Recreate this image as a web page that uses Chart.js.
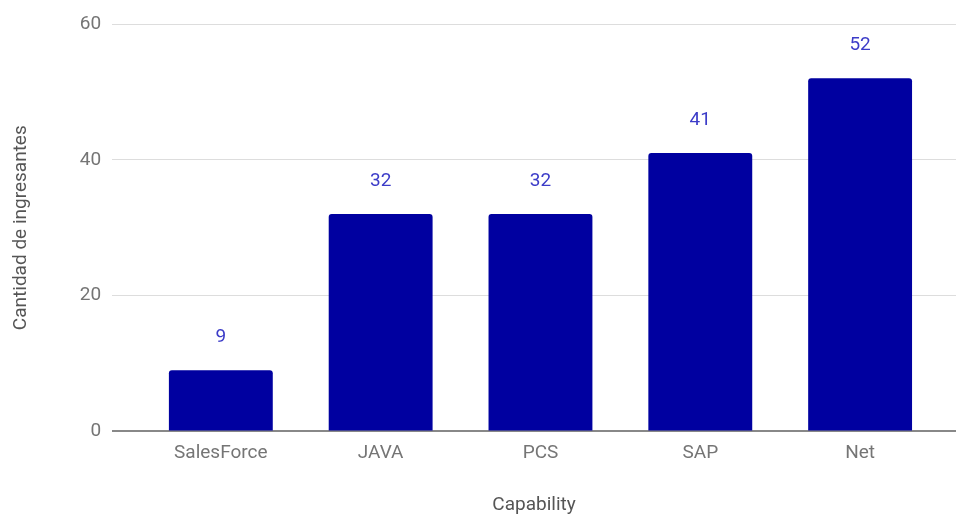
<!DOCTYPE html>
<html>
<head>
<meta charset="utf-8">
<script src="https://cdn.jsdelivr.net/npm/chart.js@4/dist/chart.umd.min.js"></script>
<style>
  html, body { margin: 0; padding: 0; background: #fff; }
  #wrap { width: 956px; height: 515px; }
</style>
</head>
<body>
<div id="wrap"><canvas id="myChart"></canvas></div>
<script>
const categories = ['SalesForce', 'JAVA', 'PCS', 'SAP', 'Net'];
const ingresantes = [9, 32, 32, 41, 52];
const yTicks = [0, 20, 40, 60];

// labels above each bar, in blue
const valueLabels = {
    id: 'valueLabels',
    afterDatasetsDraw(chart) {
        const ctx = chart.ctx;
        const meta = chart.getDatasetMeta(0);
        ctx.save();
        ctx.font = '19px Roboto';
        ctx.fillStyle = '#3c3cc8';
        ctx.textAlign = 'center';
        ctx.textBaseline = 'middle';
        meta.data.forEach(function(bar, i) {
            ctx.fillText(String(ingresantes[i]), bar.x, bar.y - 33);
        });
        ctx.restore();
    }
};

const ctx = document.getElementById('myChart');
new Chart(ctx, {
    type: 'bar',
    data: {
        datasets: [{
            data: ingresantes.map(function(v, i) { return { x: i, y: v }; }),
            backgroundColor: '#0000a0',
            borderRadius: 3,
            borderSkipped: 'bottom',
            barPercentage: 0.65,
            categoryPercentage: 1
        }]
    },
    options: {
        responsive: true,
        maintainAspectRatio: false,
        animation: false,
        layout: { padding: { top: 24, right: 0, left: 10, bottom: 0 } },
        plugins: {
            legend: { display: false },
            tooltip: { enabled: false }
        },
        scales: {
            x: {
                type: 'linear',
                offset: false,
                min: -0.68,
                max: 4.6,
                afterBuildTicks: function(axis) {
                    axis.ticks = categories.map(function(c, i) { return { value: i }; });
                },
                grid: { display: false, drawTicks: false },
                border: { display: false },
                ticks: {
                    color: '#757575',
                    font: { family: 'Roboto', size: 19 },
                    padding: 10,
                    maxRotation: 0,
                    autoSkip: false,
                    callback: function(v) { return categories[v]; }
                },
                title: {
                    display: true,
                    text: 'Capability',
                    color: '#555',
                    font: { family: 'Roboto', size: 19 },
                    padding: { top: 20, bottom: -2 }
                }
            },
            y: {
                min: 0,
                max: 60,
                afterBuildTicks: function(axis) {
                    axis.ticks = yTicks.map(function(v) { return { value: v }; });
                },
                grid: {
                    color: function(c) { return c.tick.value === 0 ? '#888' : '#ddd'; },
                    lineWidth: function(c) { return c.tick.value === 0 ? 2 : 1; },
                    drawTicks: false
                },
                border: { display: false },
                ticks: {
                    color: '#757575',
                    font: { family: 'Roboto', size: 19 },
                    padding: 11
                },
                title: {
                    display: true,
                    text: 'Cantidad de ingresantes',
                    color: '#555',
                    font: { family: 'Roboto', size: 19 },
                    padding: { top: 0, bottom: 36 }
                }
            }
        }
    },
    plugins: [valueLabels]
});
</script>
</body>
</html>
